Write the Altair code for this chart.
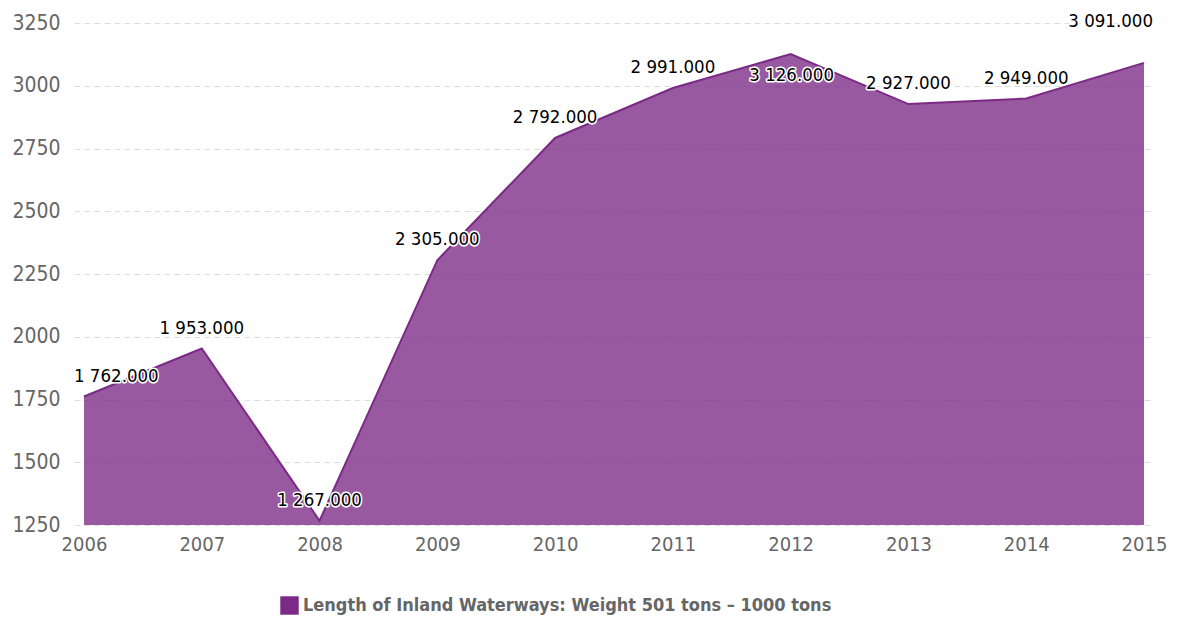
import altair as alt
import pandas as pd

years = [2006, 2007, 2008, 2009, 2010, 2011, 2012, 2013, 2014, 2015]
values = [1762, 1953, 1267, 2305, 2792, 2991, 3126, 2927, 2949, 3091]
labels = ["1 762.000", "1 953.000", "1 267.000", "2 305.000", "2 792.000",
          "2 991.000", "3 126.000", "2 927.000", "2 949.000", "3 091.000"]
series_name = "Length of Inland Waterways: Weight 501 tons – 1000 tons"

df = pd.DataFrame({"year": years, "value": values, "label": labels,
                   "series": [series_name] * len(years)})

FONT = "DejaVu Sans Condensed, Roboto, sans-serif"
AREA_COL = "#7b2a85"

x = alt.X("year:Q", scale=alt.Scale(domain=[2006, 2015], padding=10, nice=False, zero=False),
          axis=alt.Axis(values=years, format="d", title=None, grid=False, domain=False,
                        ticks=False, labelFontSize=20, labelColor="#666666",
                        labelFont=FONT, labelPadding=9))
y = alt.Y("value:Q", scale=alt.Scale(domain=[1250, 3250], nice=False, zero=False),
          axis=alt.Axis(values=list(range(1250, 3251, 250)), format="d", title=None, domain=False,
                        ticks=False, labelFontSize=21, labelColor="#666666",
                        labelFont=FONT, labelPadding=14, gridDash=[6, 4],
                        gridColor="#dddddd", gridWidth=1))

base = alt.Chart(df)

area = base.mark_area(opacity=0.78, line={"color": AREA_COL, "strokeWidth": 2}).encode(
    x=x, y=y, y2=alt.Y2(datum=1250),
    color=alt.Color("series:N", scale=alt.Scale(range=[AREA_COL]),
                    legend=alt.Legend(title=None, orient="none", legendX=206, legendY=573,
                                      symbolType="square", symbolSize=340,
                                      symbolStrokeWidth=0, symbolOpacity=1,
                                      labelFontSize=18, labelFont=FONT,
                                      labelFontWeight="bold", labelColor="#666666",
                                      labelLimit=800, symbolOffset=0))
)


def label_layer(filt, dx=0, dy=-21, align="center"):
    layers = []
    for stroke in (True, False):
        kw = dict(fontSize=18.5, font=FONT, dx=dx, dy=dy, align=align, baseline="middle")
        if stroke:
            kw.update(stroke="white", strokeWidth=3, strokeJoin="round", color="white")
        else:
            kw.update(color="#000000")
        layers.append(base.transform_filter(filt).mark_text(**kw).encode(
            x=alt.X("year:Q"), y=alt.Y("value:Q"), text="label:N"))
    return layers


mid = "datum.year > 2006 && datum.year < 2015 && datum.year != 2012"
texts = []
texts += label_layer(mid)
texts += label_layer("datum.year == 2006", dx=-10, dy=-20, align="left")
texts += label_layer("datum.year == 2012", dx=1, dy=21)
texts += label_layer("datum.year == 2015", dx=9, dy=-42, align="right")

chart = alt.layer(area, *texts).properties(
    width=1080, height=502,
    autosize=alt.AutoSizeParams(type="none"),
    padding={"left": 66, "top": 15, "right": 15, "bottom": 92},
    background="white",
).configure_view(strokeWidth=0)

chart.save("out.html", embed_options={"renderer": "svg", "actions": False})
